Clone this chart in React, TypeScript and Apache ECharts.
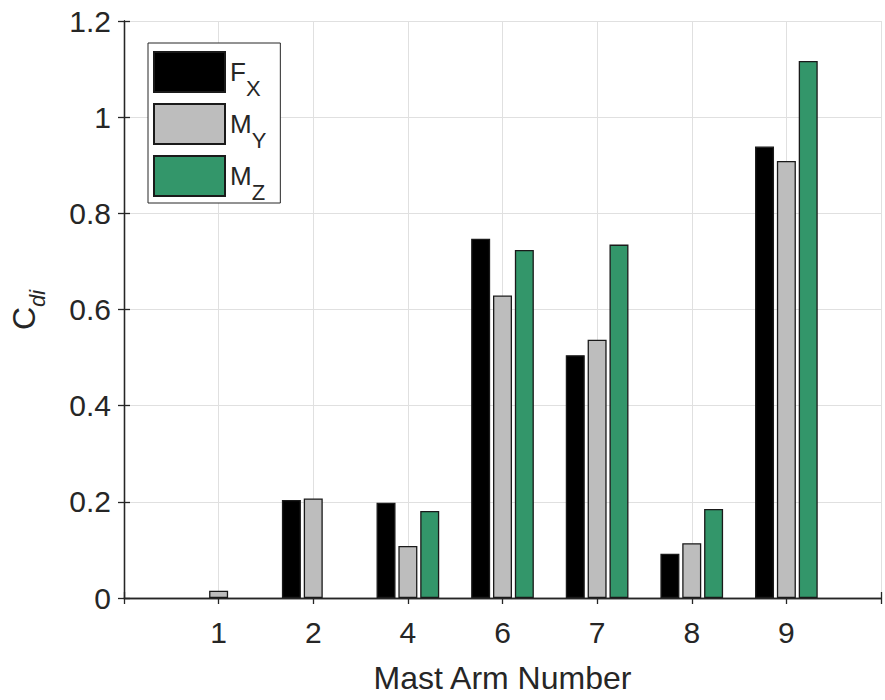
import React, { useEffect, useRef } from "react";
import * as echarts from "echarts";

const categories = ["1", "2", "4", "6", "7", "8", "9"];
const fxValues = [0, 0.204, 0.198, 0.747, 0.505, 0.092, 0.939];
const myValues = [0.015, 0.207, 0.108, 0.629, 0.537, 0.114, 0.909];
const mzValues = [0, 0, 0.181, 0.724, 0.735, 0.185, 1.117];
const seriesNames = ["FX", "MY", "MZ"];
const seriesColors = ["#000000", "#bdbdbd", "#33966a"];
const yTicks = { min: 0, max: 1.2, interval: 0.2 };

const FONT = "'Liberation Sans', Arial, Helvetica, sans-serif";
const AXIS_COLOR = "#262626";

export default function App() {
  const ref = useRef<HTMLDivElement>(null);
  useEffect(() => {
    if (!ref.current) return;
    const chart = echarts.init(ref.current, undefined, { renderer: "svg" });
    const allValues = [fxValues, myValues, mzValues];
    const toData = (vals: number[]) =>
      vals.map((v, i) => ({
        value: [i + 1, v],
        itemStyle: v === 0 ? { borderWidth: 0 } : undefined,
      }));
    const axisLineStyle = { color: AXIS_COLOR, width: 1.3 };
    chart.setOption({
      animation: false,
      backgroundColor: "#ffffff",
      textStyle: { fontFamily: FONT },
      grid: { left: 124, right: 4, top: 21, bottom: 102, containLabel: false },
      legend: {
        orient: "vertical",
        left: 148,
        top: 43,
        icon: "rect",
        itemWidth: 71,
        itemHeight: 40,
        itemGap: 4,
        padding: [8, 14, 0, 5],
        borderColor: AXIS_COLOR,
        borderWidth: 1,
        backgroundColor: "#ffffff",
        data: seriesNames,
        formatter: (name: string) => `{m|${name[0]}}{s|${name.slice(1)}}`,
        textStyle: {
          fontFamily: FONT,
          color: AXIS_COLOR,
          rich: {
            m: { fontSize: 26, lineHeight: 26, verticalAlign: "top", color: AXIS_COLOR, fontFamily: FONT },
            s: { fontSize: 22, lineHeight: 22, verticalAlign: "top", padding: [18, 0, 0, 0], color: AXIS_COLOR, fontFamily: FONT },
          },
        },
      },
      xAxis: [
        {
          type: "value",
          min: 0,
          max: 8,
          interval: 1,
          position: "bottom",
          axisLine: { show: true, lineStyle: axisLineStyle },
          axisTick: { show: true, inside: true, length: 6, lineStyle: axisLineStyle },
          axisLabel: {
            show: true,
            margin: 19,
            fontSize: 30,
            color: AXIS_COLOR,
            fontFamily: FONT,
            formatter: (v: number) => (v >= 1 && v <= categories.length ? categories[v - 1] : ""),
          },
          splitLine: { show: true, lineStyle: { color: "#e0e0e0", width: 1 } },
          name: "Mast Arm Number",
          nameLocation: "middle",
          nameGap: 64,
          nameTextStyle: { fontSize: 32, color: AXIS_COLOR, fontFamily: FONT },
        },
        {
          type: "value",
          min: 0,
          max: 8,
          interval: 1,
          position: "top",
          axisLine: { show: true, lineStyle: axisLineStyle },
          axisTick: { show: true, inside: true, length: 6, lineStyle: axisLineStyle },
          axisLabel: { show: false },
          splitLine: { show: false },
        },
      ],
      yAxis: [
        {
          type: "value",
          min: yTicks.min,
          max: yTicks.max,
          interval: yTicks.interval,
          position: "left",
          axisLine: { show: true, lineStyle: axisLineStyle },
          axisTick: { show: true, inside: true, length: 6, lineStyle: axisLineStyle },
          axisLabel: { show: true, margin: 13, fontSize: 30, color: AXIS_COLOR, fontFamily: FONT },
          splitLine: { show: true, lineStyle: { color: "#e0e0e0", width: 1 } },
        },
        {
          type: "value",
          min: yTicks.min,
          max: yTicks.max,
          interval: yTicks.interval,
          position: "right",
          axisLine: { show: true, lineStyle: axisLineStyle },
          axisTick: { show: true, inside: true, length: 6, lineStyle: axisLineStyle },
          axisLabel: { show: false },
          splitLine: { show: false },
        },
      ],
      graphic: [
        {
          type: "text",
          x: 24,
          y: 310,
          rotation: Math.PI / 2,
          style: {
            text: "{c|C}{s|di}",
            align: "center",
            verticalAlign: "middle",
            rich: {
              c: { fontSize: 32, lineHeight: 32, verticalAlign: "top", fill: AXIS_COLOR, fontFamily: FONT },
              s: { fontSize: 22, lineHeight: 22, verticalAlign: "top", padding: [18, 0, 0, 0], fontStyle: "italic", fill: AXIS_COLOR, fontFamily: FONT },
            },
          },
        },
      ],
      series: seriesNames.map((name, k) => ({
        name,
        type: "bar",
        xAxisIndex: 0,
        yAxisIndex: 0,
        barWidth: 19,
        barGap: "15%",
        data: toData(allValues[k]),
        itemStyle: { color: seriesColors[k], borderColor: "#1a1a1a", borderWidth: 1.3 },
      })),
    });
    return () => chart.dispose();
  }, []);
  return <div ref={ref} style={{ width: 885, height: 700, position: "absolute", left: 0, top: 0 }} />;
}
